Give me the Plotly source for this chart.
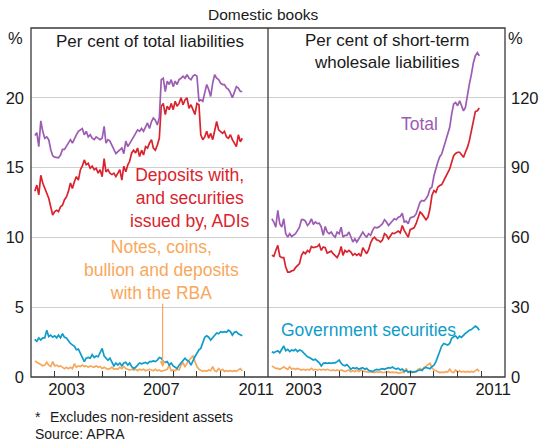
import pandas as pd
import plotly.graph_objects as go

# monthly observations, Mar 2002 - Dec 2010
dates = pd.date_range("2002-03-01", periods=106, freq="MS")

# Per cent of total liabilities
left_total = [
    17.3, 17.5, 16.5, 18.35, 17.6, 17.1, 17.2, 17.0, 16.3, 15.85,
    15.75, 15.75, 15.7, 15.9, 16.3, 16.3, 16.55, 16.75, 17.0, 16.75,
    17.1, 17.35, 17.6, 17.7, 17.8, 17.35, 17.6, 17.2, 17.35, 17.1,
    17.0, 17.2, 17.1, 17.0, 17.1, 17.95, 16.75, 17.0, 16.9, 16.6,
    16.3, 16.0, 16.15, 16.3, 16.4, 16.0, 16.9, 16.5, 16.75, 17.0,
    17.2, 17.45, 17.7, 17.6, 17.8, 17.6, 17.95, 18.2, 17.8, 18.3,
    18.55, 18.4, 18.05, 18.55, 21.3, 21.4, 20.45, 21.2, 20.95, 21.3,
    20.8, 21.2, 20.95, 21.3, 21.4, 21.55, 21.4, 21.65, 21.4, 21.3,
    21.55, 21.65, 21.55, 19.75, 19.85, 19.75, 20.35, 20.95, 20.6, 20.1,
    21.05, 21.65, 21.4, 21.3, 21.05, 20.95, 20.95, 20.7, 20.6, 20.35,
    20.0, 20.45, 20.8, 20.7, 20.45, 20.45,
]
left_adi = [
    13.3, 13.75, 13.05, 14.45, 13.9, 13.5, 13.15, 12.8, 12.2, 11.6,
    11.85, 11.95, 11.85, 12.2, 12.3, 12.7, 12.9, 13.3, 13.9, 13.5,
    14.0, 14.35, 14.1, 14.85, 15.1, 15.55, 15.2, 15.3, 14.95, 15.1,
    14.85, 14.95, 14.6, 14.85, 14.35, 15.65, 14.7, 14.85, 14.6, 14.5,
    14.6, 14.35, 14.6, 14.85, 14.1, 15.1, 14.7, 15.2, 15.45, 16.05,
    16.25, 16.05, 16.4, 15.8, 16.25, 15.9, 16.5, 16.4, 16.75, 17.0,
    16.4, 16.25, 16.6, 17.1, 19.4, 19.6, 18.8, 19.4, 19.15, 19.6,
    19.15, 19.75, 19.4, 19.6, 20.0, 19.5, 19.85, 20.0, 19.25, 19.5,
    19.15, 18.8, 19.6, 19.5, 17.35, 17.0, 17.2, 17.6, 17.1, 17.45,
    17.0, 17.7, 18.3, 17.7, 17.6, 17.45, 17.6, 17.2, 17.1, 17.35,
    17.0, 16.75, 16.5, 17.35, 16.85, 17.1,
]
left_gov = [
    2.7, 2.55, 2.8, 2.65, 2.8, 2.8, 3.35, 2.9, 3.0, 2.85,
    2.95, 2.8, 3.0, 2.8, 3.1, 2.85, 2.8, 2.55, 2.4, 2.3,
    2.2, 1.95, 2.0, 1.7, 1.45, 1.1, 1.35, 1.4, 1.35, 1.6,
    1.4, 1.5, 1.45, 1.7, 2.05, 1.5, 1.35, 1.2, 1.35, 1.1,
    0.8, 1.0, 0.85, 1.0, 0.8, 1.0, 1.05, 0.85, 1.0, 0.75,
    0.6, 0.7, 0.85, 1.0, 0.95, 1.0, 1.05, 0.95, 1.1, 1.1,
    1.15, 1.1, 1.2, 1.4, 1.35, 1.1, 1.05, 1.1, 0.85, 1.0,
    0.8, 0.7, 0.6, 0.85, 1.0, 1.2, 1.35, 1.2, 1.1, 0.85,
    1.2, 1.45, 1.7, 1.95, 2.05, 2.55, 2.85, 2.95, 2.85, 2.65,
    2.8, 3.0, 3.15, 3.1, 3.25, 3.2, 3.25, 3.2, 3.35, 3.25,
    3.0, 3.2, 3.25, 3.1, 3.0, 2.95,
]
left_notes = [
    1.15, 1.05, 0.95, 0.85, 0.8, 0.85, 1.05, 0.85, 0.75, 1.1,
    0.8, 0.85, 0.75, 0.8, 0.7, 0.6, 0.7, 0.6, 0.7, 0.6,
    0.95, 0.7, 0.8, 0.75, 0.85, 0.75, 0.8, 0.7, 0.8, 0.75,
    0.7, 0.8, 0.7, 0.75, 0.6, 0.7, 0.6, 0.55, 0.6, 0.7,
    0.55, 0.6, 0.55, 0.7, 0.6, 0.75, 0.6, 0.55, 0.5, 0.55,
    0.5, 0.55, 0.45, 0.55, 0.5, 0.55, 0.45, 0.5, 0.55, 0.5,
    0.45, 0.55, 0.45, 0.5, 0.4, 0.45, 0.5, 0.55, 0.85, 0.45,
    0.5, 0.45, 0.55, 0.5, 0.85, 1.0, 0.75, 1.0, 1.2, 1.35,
    1.5, 1.1, 0.75, 0.55, 0.45, 0.4, 0.45, 0.4, 0.5, 0.45,
    0.75, 0.45, 0.4, 0.6, 0.45, 0.55, 0.4, 0.45, 0.4, 0.45,
    0.4, 0.45, 0.4, 0.5, 0.6, 0.45,
]

# Per cent of short-term wholesale liabilities
right_total = [
    68, 66.6, 64.4, 71.6, 65.9, 64.4, 68, 61.6, 60.1, 61.6,
    60.4, 60.9, 61.6, 63, 64.4, 67.6, 67.6, 67, 65.1, 66.1,
    68, 65.6, 66.6, 65.9, 66.1, 64.4, 60.9, 64.7, 62.3, 61.6,
    62.3, 60.9, 60.1, 62.3, 61.6, 64.4, 60.1, 60.9, 60.9, 62.3,
    60.1, 58, 59.4, 58, 59.4, 60.9, 62.3, 60.9, 60.1, 61.6,
    60.9, 63, 64.4, 64.1, 64.4, 65.1, 65.9, 67.6, 66.6, 65.1,
    66.1, 67.3, 68, 67.6, 68.7, 69, 70.4, 66.6, 67, 65.9,
    68.4, 68.7, 69, 70.1, 73, 75.1, 75.9, 75.6, 76.6, 78,
    80.9, 81.6, 86.5, 90.1, 92.3, 94.7, 95.9, 98.7, 101.6, 105.1,
    107.3, 113, 117.3, 118, 116.6, 118.7, 116.6, 114.4, 115.9, 121.6,
    125.9, 130.1, 135.1, 138, 139.4, 138,
]
right_adi = [
    52.3, 51.9, 54.4, 56.6, 51.9, 51.3, 51.3, 47.3, 45.1, 45.1,
    45.6, 45.9, 47, 48, 48.7, 52.3, 53.7, 53, 54.4, 53.7,
    56.1, 55.6, 55.9, 56.1, 57, 54.4, 55.9, 55.6, 53.3, 53.7,
    54.1, 53, 52.3, 51.3, 53, 56.1, 52.3, 54.4, 53.7, 54.4,
    53.7, 52.3, 53, 52.3, 53, 51.9, 55.6, 54.4, 53, 54.7,
    57.6, 59.4, 60.1, 59, 58.7, 58, 59, 61.6, 60.9, 59.4,
    60.9, 61.9, 61.6, 62.3, 62.7, 61.9, 65.1, 63, 61.6, 60.1,
    63.3, 63.7, 64.1, 65.9, 68.7, 70.9, 70.1, 69, 67.6, 68.7,
    72.3, 78, 80.1, 79.4, 81.6, 82.3, 82.7, 84.4, 85.9, 87.3,
    89.4, 92.3, 95.1, 96.1, 96.6, 96.6, 95.6, 94.4, 96.6, 98.7,
    101.6, 105.9, 110.4, 114.1, 114.4, 115.6,
]
right_gov = [
    10.9, 10.4, 10.9, 11.3, 10.4, 11.9, 13.3, 11.3, 11.9, 10.9,
    11.6, 11.3, 11.9, 10.9, 11.6, 11.3, 10.4, 9.4, 8.7, 8.4,
    8.0, 7.3, 7.6, 7.0, 6.1, 4.7, 5.9, 6.1, 5.9, 6.1,
    5.9, 6.1, 6.1, 6.6, 7.3, 5.9, 5.1, 4.8, 5.3, 4.4,
    3.3, 4.0, 3.6, 4.0, 3.3, 3.7, 4.0, 3.3, 3.7, 2.9,
    2.5, 2.3, 2.9, 3.3, 3.1, 3.3, 3.6, 3.3, 3.7, 4.0,
    3.8, 4.3, 3.8, 3.4, 3.8, 3.0, 3.4, 2.5, 2.8, 2.1,
    2.5, 2.1, 2.1, 2.5, 2.8, 3.1, 2.8, 3.8, 4.1, 3.8,
    3.5, 4.5, 5.1, 6.6, 8.7, 10.9, 13.3, 14.4, 14.1, 13.7,
    14.4, 16.6, 17.3, 17.6, 16.6, 17.6, 17.0, 18.0, 18.7, 19.4,
    20.1, 20.4, 21.3, 21.9, 21.3, 20.1,
]
right_notes = [
    4.7, 4.1, 3.7, 3.7, 3.3, 3.7, 4.4, 3.7, 3.3, 4.4,
    3.4, 3.7, 3.3, 3.7, 3.3, 3.0, 3.3, 3.0, 3.3, 3.0,
    3.7, 3.0, 3.3, 3.0, 3.3, 3.0, 3.3, 3.0, 3.3, 3.0,
    2.7, 3.0, 2.7, 3.0, 2.7, 3.0, 2.7, 2.3, 2.7, 3.0,
    2.3, 2.7, 2.3, 3.0, 2.3, 3.0, 2.7, 2.3, 2.3, 2.0,
    2.3, 2.0, 1.9, 2.3, 2.0, 2.3, 1.9, 2.0, 2.3, 2.3,
    1.9, 2.1, 1.9, 2.1, 1.6, 1.9, 2.1, 1.9, 3.7, 1.9,
    2.1, 1.9, 2.3, 2.1, 3.3, 3.7, 3.0, 4.0, 4.7, 5.3,
    5.9, 4.0, 3.0, 2.7, 2.3, 1.9, 2.1, 1.9, 2.3, 2.1,
    3.3, 2.1, 1.9, 3.0, 2.1, 2.7, 2.1, 2.4, 2.1, 2.4,
    2.1, 2.4, 2.1, 2.7, 3.3, 2.4,
]

year_ticks = [f"{y}-01-01" for y in range(2003, 2012)]
label_years = ["2003", "2007", "2011"]
label_pos = [f"{y}-07-02" for y in label_years]

PURPLE = "#9c5cb4"
RED = "#d9232d"
BLUE = "#0e9cc8"
ORANGE = "#f7a85c"
FRAME = "#3a3a3a"
GRID = "#cfcfcf"
FONT = "Arial, Liberation Sans, sans-serif"
FS = 16.5
LABEL_FS = 17.5

fig = go.Figure()

series = [
    (left_notes, right_notes, ORANGE),
    (left_gov, right_gov, BLUE),
    (left_adi, right_adi, RED),
    (left_total, right_total, PURPLE),
]
for lv, rv, col in series:
    fig.add_trace(go.Scatter(x=dates, y=lv, mode="lines", xaxis="x", yaxis="y",
                             line=dict(color=col, width=1.7), hoverinfo="skip"))
    fig.add_trace(go.Scatter(x=dates, y=rv, mode="lines", xaxis="x2", yaxis="y2",
                             line=dict(color=col, width=1.7), hoverinfo="skip"))

xaxis_common = dict(
    range=["2002-01-01", "2012-01-01"],
    tickmode="array", tickvals=label_pos, ticktext=label_years,
    ticks="", showgrid=False, zeroline=False, showline=False, automargin=False,
    tickfont=dict(family=FONT, size=FS, color="#1a1a1a"),
    minor=dict(tickmode="array", tickvals=year_ticks, ticks="inside",
               ticklen=6, tickwidth=1, tickcolor=FRAME, showgrid=False),
)

fig.update_layout(
    width=541, height=444,
    margin=dict(l=31, r=36, t=28, b=67),
    paper_bgcolor="white", plot_bgcolor="white",
    showlegend=False,
    font=dict(family=FONT, size=FS, color="#1a1a1a"),
    xaxis=dict(domain=[0, 0.5], anchor="y", **xaxis_common),
    xaxis2=dict(domain=[0.5, 1], anchor="y2", **xaxis_common),
    yaxis=dict(range=[0, 25], tickmode="array", tickvals=[0, 5, 10, 15, 20],
               showgrid=True, gridcolor=GRID, gridwidth=1, zeroline=False,
               showline=False, ticks="", ticklabelstandoff=6, anchor="x",
               automargin=False),
    yaxis2=dict(range=[0, 150], tickmode="array", tickvals=[0, 30, 60, 90, 120],
                showgrid=True, gridcolor=GRID, gridwidth=1, zeroline=False,
                showline=False, ticks="", ticklabelstandoff=5, anchor="x2",
                side="right", automargin=False),
)

# frame round both panels and the divider
fig.add_shape(type="rect", xref="paper", yref="paper", x0=0, y0=0, x1=1, y1=1,
              line=dict(color=FRAME, width=1.3), layer="above")
fig.add_shape(type="line", xref="paper", yref="paper", x0=0.5, y0=0, x1=0.5, y1=1,
              line=dict(color=FRAME, width=1.3), layer="above")

def note(text, x, y, xref="paper", yref="paper", color="#1a1a1a", size=FS,
         xanchor="center", align="center"):
    fig.add_annotation(text=text, x=x, y=y, xref=xref, yref=yref, showarrow=False,
                       font=dict(family=FONT, size=size, color=color),
                       xanchor=xanchor, yanchor="middle", align=align)

note("Domestic books", 0.49, 1.04, size=15.5)
note("%", -0.032, 0.972)
note("%", 1.023, 0.972)
note("Per cent of total liabilities", 0.5, 0.962, xref="x domain", size=17)
note("Per cent of short-term<br>wholesale liabilities", 0.5, 0.932,
     xref="x2 domain", size=17)
note("Deposits with,<br>and securities<br>issued by, ADIs", "2008-09-15", 12.8,
     xref="x", yref="y", color=RED, size=LABEL_FS)
note("Notes, coins,<br>bullion and deposits<br>with the RBA", "2007-07-12", 7.66,
     xref="x", yref="y", color=ORANGE, size=LABEL_FS)
note("Total", "2008-05-28", 108.7, xref="x2", yref="y2", color=PURPLE, size=LABEL_FS)
note("Government securities", "2006-04-05", 20.2, xref="x2", yref="y2",
     color=BLUE, size=LABEL_FS)
note("*", 0.004, -0.115, xanchor="left", size=14)
note("Excludes non-resident assets", 0.036, -0.115, xanchor="left", size=14)
note("Source: APRA", 0.004, -0.163, xanchor="left", size=14)

# arrow from the notes label down to the series
fig.add_annotation(x="2007-07-22", y=0.7, xref="x", yref="y", text="",
                   showarrow=True, ax=0, ay=-65, arrowhead=2, arrowsize=1,
                   arrowwidth=1.2, arrowcolor=ORANGE, standoff=0)

# page body has a default 8px margin; drop it so the figure sits at the corner
fig.write_html("out.html", config={"displayModeBar": False},
               post_script="document.body.style.margin='0';")
